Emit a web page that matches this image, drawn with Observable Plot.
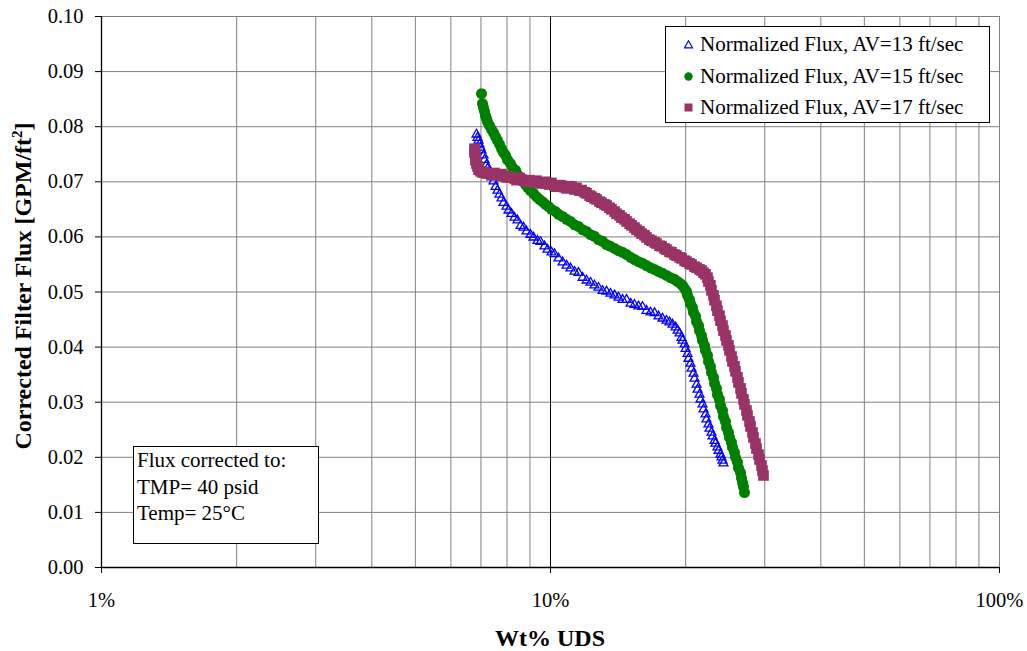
<!DOCTYPE html>
<html>
<head>
<meta charset="utf-8">
<script src="https://cdn.jsdelivr.net/npm/d3@7"></script>
<script src="https://cdn.jsdelivr.net/npm/@observablehq/plot@0.6"></script>
<style>
  body { margin: 0; background: #fff; }
  #chart { position: relative; width: 1027px; height: 651px; font-family: "Liberation Serif", "Times New Roman", serif; color: #000; }
  .box { position: absolute; background: #fff; border: 1px solid #000; box-sizing: border-box; }
  .row { position: absolute; left: 0; height: 26px; line-height: 26px; font-size: 21px; white-space: nowrap; }
  .row svg { position: absolute; left: 18px; top: 9px; }
  .row span { position: absolute; left: 34px; }
  .note { left: 133px; top: 446px; width: 186px; height: 98px; padding: 0 0 0 3px; font-size: 21px; line-height: 26.5px; }
</style>
</head>
<body>
<div id="chart"></div>
<script>
// Wt% UDS (x) and corrected filter flux in GPM/ft² (y) for each axial velocity
const pctAV13 = [6.842,6.877,6.912,6.948,6.984,7.020,7.092,7.129,7.202,7.239,
  7.314,7.390,7.466,7.543,7.620,7.698,7.778,7.858,7.980,8.062,
  8.187,8.314,8.443,8.575,8.707,8.843,9.025,9.165,9.355,9.500,
  9.697,9.847,10.05,10.21,10.42,10.64,10.86,11.08,11.31,11.54,
  11.79,12.03,12.28,12.53,12.79,13.06,13.33,13.60,13.89,14.17,
  14.47,14.77,15.08,15.38,15.70,16.03,16.36,16.70,17.05,17.40,
  17.76,18.13,18.41,18.70,18.99,19.19,19.38,19.58,19.68,19.89,
  19.99,20.19,20.29,20.50,20.61,20.82,20.93,21.15,21.26,21.47,
  21.58,21.81,21.92,22.14,22.25,22.48,22.60,22.83,22.95,23.19,
  23.30,23.54,23.67,23.91,24.03,24.16,24.28];
const fluxAV13 = [0.0786,0.0780,0.0775,0.0768,0.0762,0.0757,0.0748,0.0740,0.0731,0.0724,
  0.0717,0.0708,0.0701,0.0691,0.0684,0.0677,0.0670,0.0662,0.0655,0.0648,
  0.0642,0.0635,0.0630,0.0620,0.0617,0.0610,0.0604,0.0599,0.0593,0.0591,
  0.0583,0.0577,0.0572,0.0569,0.0561,0.0554,0.0548,0.0543,0.0537,0.0535,
  0.0526,0.0521,0.0517,0.0512,0.0508,0.0502,0.0501,0.0497,0.0494,0.0490,
  0.0486,0.0486,0.0479,0.0477,0.0474,0.0473,0.0466,0.0463,0.0462,0.0456,
  0.0452,0.0448,0.0445,0.0441,0.0436,0.0430,0.0425,0.0417,0.0412,0.0405,
  0.0397,0.0388,0.0379,0.0370,0.0361,0.0352,0.0343,0.0332,0.0323,0.0314,
  0.0305,0.0296,0.0287,0.0278,0.0269,0.0260,0.0252,0.0245,0.0238,0.0230,
  0.0225,0.0218,0.0212,0.0205,0.0200,0.0194,0.0189];

const pctAV15 = [7.020,7.056,7.092,7.129,7.165,7.202,7.239,7.314,7.390,7.466,
  7.543,7.620,7.698,7.778,7.858,7.939,8.020,8.145,8.229,8.357,
  8.443,8.575,8.663,8.797,8.888,9.025,9.165,9.307,9.451,9.598,
  9.747,9.898,10.05,10.26,10.42,10.64,10.86,11.08,11.31,11.54,
  11.79,12.03,12.28,12.53,12.79,13.06,13.33,13.60,13.89,14.17,
  14.47,14.77,15.08,15.38,15.70,16.03,16.36,16.70,17.05,17.40,
  17.76,18.13,18.51,18.89,19.19,19.48,19.68,19.89,20.09,20.19,
  20.40,20.50,20.71,20.82,21.04,21.15,21.37,21.47,21.70,21.81,
  22.03,22.14,22.37,22.48,22.71,22.83,23.07,23.19,23.42,23.54,
  23.79,23.91,24.16,24.28,24.53,24.66,24.91,25.04,25.30,25.43,
  25.69,25.82,26.09,26.22,26.50,26.63,26.77,26.90,27.04];
const fluxAV15 = [0.0860,0.0842,0.0835,0.0828,0.0820,0.0815,0.0809,0.0802,0.0795,0.0789,
  0.0782,0.0775,0.0768,0.0760,0.0753,0.0748,0.0740,0.0733,0.0726,0.0721,
  0.0713,0.0708,0.0701,0.0695,0.0690,0.0684,0.0679,0.0673,0.0668,0.0664,
  0.0659,0.0655,0.0650,0.0646,0.0641,0.0637,0.0632,0.0628,0.0622,0.0619,
  0.0613,0.0610,0.0604,0.0601,0.0595,0.0592,0.0586,0.0583,0.0579,0.0575,
  0.0572,0.0568,0.0563,0.0559,0.0555,0.0552,0.0548,0.0544,0.0541,0.0537,
  0.0534,0.0530,0.0526,0.0523,0.0519,0.0515,0.0512,0.0506,0.0501,0.0494,
  0.0486,0.0479,0.0472,0.0463,0.0456,0.0446,0.0439,0.0430,0.0421,0.0412,
  0.0403,0.0394,0.0385,0.0374,0.0365,0.0354,0.0345,0.0334,0.0325,0.0314,
  0.0305,0.0294,0.0285,0.0274,0.0265,0.0254,0.0245,0.0236,0.0227,0.0218,
  0.0209,0.0200,0.0191,0.0181,0.0172,0.0162,0.0154,0.0147,0.0136];

const pctAV17 = [6.772,6.772,6.807,6.807,6.842,6.877,6.912,6.984,7.056,7.129,
  7.202,7.314,7.390,7.504,7.581,7.698,7.778,7.899,7.980,8.103,
  8.187,8.314,8.400,8.531,8.618,8.752,8.843,8.979,9.071,9.212,
  9.307,9.451,9.549,9.697,9.797,9.949,10.05,10.21,10.31,10.47,
  10.58,10.75,10.86,11.03,11.14,11.31,11.43,11.60,11.73,11.91,
  12.03,12.22,12.34,12.53,12.66,12.86,12.99,13.19,13.33,13.53,
  13.67,13.89,14.03,14.25,14.39,14.62,14.77,15.00,15.15,15.38,
  15.54,15.78,15.95,16.19,16.36,16.61,16.79,17.05,17.22,17.49,
  17.67,17.94,18.13,18.41,18.60,18.89,19.08,19.38,19.58,19.89,
  20.09,20.40,20.61,20.93,21.15,21.47,21.70,21.92,22.14,22.37,
  22.48,22.71,22.83,23.07,23.19,23.42,23.54,23.79,23.91,24.16,
  24.28,24.53,24.66,24.91,25.04,25.30,25.43,25.69,25.82,26.09,
  26.22,26.50,26.63,26.90,27.04,27.32,27.46,27.75,27.89,28.18,
  28.32,28.61,28.76,29.06,29.21,29.51,29.66,29.81];
const fluxAV17 = [0.0760,0.0753,0.0746,0.0739,0.0733,0.0728,0.0722,0.0719,0.0717,0.0717,
  0.0715,0.0715,0.0713,0.0716,0.0713,0.0711,0.0714,0.0710,0.0708,0.0708,
  0.0709,0.0706,0.0703,0.0707,0.0704,0.0702,0.0700,0.0703,0.0701,0.0699,
  0.0702,0.0699,0.0697,0.0700,0.0697,0.0695,0.0698,0.0693,0.0691,0.0694,
  0.0693,0.0690,0.0688,0.0692,0.0691,0.0686,0.0689,0.0684,0.0685,0.0681,
  0.0679,0.0675,0.0673,0.0670,0.0668,0.0664,0.0662,0.0659,0.0657,0.0653,
  0.0650,0.0646,0.0642,0.0639,0.0635,0.0632,0.0628,0.0624,0.0621,0.0617,
  0.0613,0.0610,0.0606,0.0603,0.0599,0.0595,0.0593,0.0590,0.0588,0.0584,
  0.0583,0.0579,0.0577,0.0573,0.0572,0.0568,0.0566,0.0563,0.0561,0.0557,
  0.0555,0.0552,0.0550,0.0546,0.0544,0.0541,0.0539,0.0535,0.0532,0.0526,
  0.0519,0.0512,0.0503,0.0494,0.0485,0.0475,0.0466,0.0457,0.0448,0.0439,
  0.0430,0.0421,0.0412,0.0403,0.0394,0.0383,0.0374,0.0365,0.0356,0.0345,
  0.0336,0.0325,0.0316,0.0305,0.0296,0.0285,0.0276,0.0265,0.0256,0.0245,
  0.0236,0.0225,0.0216,0.0205,0.0196,0.0185,0.0176,0.0167];

const seriesNames = ["Normalized Flux, AV=13 ft/sec", "Normalized Flux, AV=15 ft/sec", "Normalized Flux, AV=17 ft/sec"];
const noteLines = ["Flux corrected to:", "TMP= 40 psid", "Temp= 25°C"];

// axis ticks and grid lines
const xTickValues = [1, 10, 100];
const xGridValues = [2,3,4,5,6,7,8,9,20,30,40,50,60,70,80,90,100];
const yTickValues = [0,0.01,0.02,0.03,0.04,0.05,0.06,0.07,0.08,0.09,0.10];

const toRows = (xs, ys) => xs.map((x, i) => ({pct: x, flux: ys[i]}));
const av13 = toRows(pctAV13, fluxAV13);
const av15 = toRows(pctAV15, fluxAV15);
const av17 = toRows(pctAV17, fluxAV17);

const plot = Plot.plot({
  width: 1027,
  height: 651,
  marginLeft: 101,
  marginRight: 28,
  marginTop: 16,
  marginBottom: 84,
  style: {fontFamily: '"Liberation Serif", "Times New Roman", serif', fontSize: "20.5px", color: "#000", background: "#fff", overflow: "visible"},
  x: {type: "log", domain: [1, 100]},
  y: {domain: [0, 0.10]},
  marks: [
    Plot.ruleX(xGridValues, {stroke: "#808080", strokeWidth: 1, strokeOpacity: 1}),
    Plot.ruleY(yTickValues.slice(1), {stroke: "#808080", strokeWidth: 1, strokeOpacity: 1}),
    Plot.ruleX([10], {stroke: "#000", strokeWidth: 1}),
    Plot.axisX({ticks: xTickValues, tickFormat: d => d + "%", tickSize: 6, tickPadding: 19, label: null}),
    Plot.axisY({ticks: yTickValues, tickFormat: d3.format(".2f"), tickSize: 6, tickPadding: 12, label: null}),
    Plot.ruleX([1], {stroke: "#000", strokeWidth: 1.3}),
    Plot.ruleY([0], {stroke: "#000", strokeWidth: 1.3}),
    Plot.dot(av13, {x: "pct", y: "flux", symbol: "triangle", r: 3.3, stroke: "#0000ff", strokeWidth: 1.3, fill: "none"}),
    Plot.dot(av15, {x: "pct", y: "flux", symbol: "circle", r: 5.5, fill: "#008000", stroke: "none"}),
    Plot.dot(av17, {x: "pct", y: "flux", symbol: "square", r: 6, fill: "#993366", stroke: "none"})
  ]
});

const chart = document.getElementById("chart");
plot.style.position = "absolute";
plot.style.left = "0";
plot.style.top = "0";
chart.appendChild(plot);

// axis titles
const svg = d3.select(plot);
svg.append("text")
  .attr("x", 550).attr("y", 646)
  .attr("text-anchor", "middle")
  .attr("font-weight", "bold").attr("font-size", 24)
  .text("Wt% UDS");
const yTitle = svg.append("text")
  .attr("transform", "translate(31,286) rotate(-90)")
  .attr("text-anchor", "middle")
  .attr("font-weight", "bold").attr("font-size", 24);
yTitle.append("tspan").text("Corrected Filter Flux [GPM/ft");
yTitle.append("tspan").attr("font-size", 15).attr("dy", -9).text("2");
yTitle.append("tspan").attr("dy", 9).text("]");

// legend
const legend = document.createElement("div");
legend.className = "box";
Object.assign(legend.style, {left: "665px", top: "26px", width: "325px", height: "97px"});
const symbols = [
  '<svg width="10" height="9"><polygon points="4.5,0.8 8.5,7.8 0.5,7.8" fill="none" stroke="#0000ff" stroke-width="1.2"/></svg>',
  '<svg width="10" height="9"><circle cx="4.5" cy="4.5" r="4.2" fill="#008000"/></svg>',
  '<svg width="10" height="9"><rect x="0.5" y="0.5" width="8" height="8" fill="#993366"/></svg>'
];
const rowTops = [4, 36, 67];
seriesNames.forEach((name, i) => {
  const row = document.createElement("div");
  row.className = "row";
  row.style.top = rowTops[i] + "px";
  row.innerHTML = symbols[i] + "<span></span>";
  row.querySelector("span").textContent = name;
  legend.appendChild(row);
});
chart.appendChild(legend);

// annotation
const note = document.createElement("div");
note.className = "box note";
noteLines.forEach(t => {
  const line = document.createElement("div");
  line.textContent = t;
  note.appendChild(line);
});
chart.appendChild(note);
</script>
</body>
</html>
